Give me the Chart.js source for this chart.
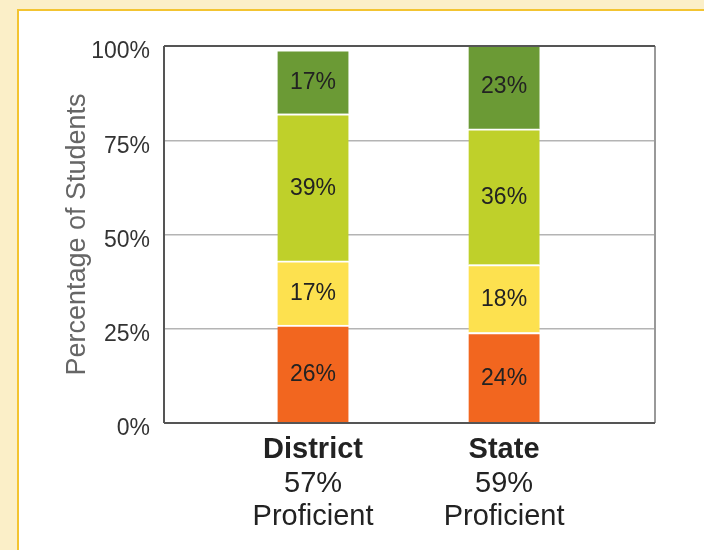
<!DOCTYPE html>
<html>
<head>
<meta charset="utf-8">
<script src="https://cdn.jsdelivr.net/npm/chart.js@4.4.0/dist/chart.umd.min.js"></script>
<style>
  html, body { margin: 0; padding: 0; }
  body { width: 704px; height: 550px; background: #fbefc8; position: relative; overflow: hidden; }
  .painel { position: absolute; left: 17px; top: 9px; right: 0; bottom: 0; background: #fff;
            border-top: 2px solid #f3c431; border-left: 2px solid #f3c431; }
  #grafico { position: absolute; left: 0; top: 0; }
</style>
</head>
<body>
<div class="painel"></div>
<canvas id="grafico" width="704" height="550"></canvas>
<script>
// grupos e valores (percentual de alunos por nível)
const grupos = ['District', 'State'];
const proficientes = ['57%', '59%'];
const niveis = ['Below Basic', 'Basic', 'Proficient', 'Advanced'];
const abaixoBasico = [26, 24];
const basico = [17, 18];
const proficiente = [39, 36];
const avancado = [17, 23];
const coresNiveis = ['#f2661f', '#fde14f', '#bfd02a', '#6b9a35'];
const ticksY = [0, 25, 50, 75, 100];

const series = [abaixoBasico, basico, proficiente, avancado];

const rotulosBarras = {
    id: 'rotulosBarras',
    afterDatasetsDraw(chart) {
        const ctx = chart.ctx;
        ctx.save();
        ctx.font = '23px "Liberation Sans", Arial, sans-serif';
        ctx.fillStyle = '#222';
        ctx.textAlign = 'center';
        ctx.textBaseline = 'middle';
        chart.data.datasets.forEach((ds, i) => {
            const meta = chart.getDatasetMeta(i);
            meta.data.forEach((bar, j) => {
                const cy = (bar.y + bar.base) / 2;
                ctx.fillText(ds.data[j].y + '%', bar.x, cy + 1);
            });
        });
        ctx.restore();
    },
    afterDraw(chart) {
        const ctx = chart.ctx;
        const area = chart.chartArea;
        const escalaX = chart.scales.x;
        ctx.save();
        // moldura da área do gráfico
        ctx.lineWidth = 2;
        ctx.strokeStyle = '#999';
        ctx.beginPath();
        ctx.moveTo(area.right, area.top);
        ctx.lineTo(area.right, area.bottom);
        ctx.stroke();
        ctx.strokeStyle = '#555';
        ctx.beginPath();
        ctx.moveTo(area.left, area.top);
        ctx.lineTo(area.right, area.top);
        ctx.moveTo(area.left, area.bottom);
        ctx.lineTo(area.right, area.bottom);
        ctx.moveTo(area.left, area.top);
        ctx.lineTo(area.left, area.bottom);
        ctx.stroke();

        // rótulos do eixo x em três linhas
        ctx.fillStyle = '#222';
        ctx.textAlign = 'center';
        ctx.textBaseline = 'alphabetic';
        grupos.forEach((g, i) => {
            const x = escalaX.getPixelForValue(i);
            ctx.font = 'bold 29px "Liberation Sans", Arial, sans-serif';
            ctx.fillText(g, x, area.bottom + 35);
            ctx.font = '29px "Liberation Sans", Arial, sans-serif';
            ctx.fillText(proficientes[i], x, area.bottom + 69);
            ctx.fillText('Proficient', x, area.bottom + 102);
        });
        ctx.restore();
    }
};

const ctx = document.getElementById('grafico').getContext('2d');
new Chart(ctx, {
    type: 'bar',
    data: {
        datasets: niveis.map((nome, i) => ({
            label: nome,
            data: series[i].map((v, j) => ({ x: j, y: v })),
            backgroundColor: coresNiveis[i],
            borderColor: '#ffffff',
            borderWidth: { top: 2, left: 0, right: 0, bottom: 0 },
            borderSkipped: false,
            barThickness: 71
        }))
    },
    options: {
        responsive: false,
        animation: false,
        layout: { padding: { left: 0, top: 46, right: 49, bottom: 0 } },
        plugins: {
            legend: { display: false },
            tooltip: { enabled: false }
        },
        scales: {
            x: {
                type: 'linear',
                stacked: true,
                offset: false,
                min: -0.78,
                max: 1.79,
                grid: { display: false, offset: false },
                border: { display: false },
                ticks: { display: false },
                afterBuildTicks: scale => { scale.ticks = grupos.map((g, i) => ({ value: i })); },
                afterFit: scale => { scale.height = 127; }
            },
            y: {
                stacked: true,
                min: 0,
                max: 100,
                afterBuildTicks: scale => { scale.ticks = ticksY.map(v => ({ value: v })); },
                afterFit: scale => { scale.width = 164; },
                grid: { color: '#b4b4b4', lineWidth: 1.5, drawTicks: false },
                border: { display: false },
                ticks: {
                    padding: 14,
                    labelOffset: 6,
                    color: '#333',
                    font: { family: '"Liberation Sans", Arial, sans-serif', size: 23 },
                    callback: v => v + '%'
                },
                title: {
                    display: true,
                    text: 'Percentage of Students',
                    color: '#666',
                    padding: { top: 61, bottom: 0 },
                    font: { family: '"Liberation Sans", Arial, sans-serif', size: 27 }
                }
            }
        }
    },
    plugins: [rotulosBarras]
});
</script>
</body>
</html>
